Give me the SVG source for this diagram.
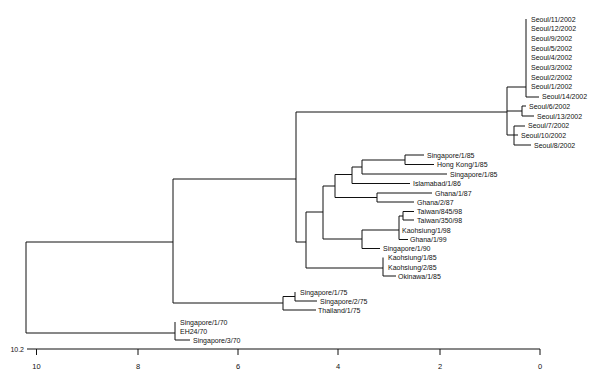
<svg xmlns="http://www.w3.org/2000/svg" width="600" height="384" viewBox="0 0 600 384">
<style>
.t{font-family:"Liberation Sans",Arial,sans-serif;font-size:7px;fill:#111}
.a{font-family:"Liberation Sans",Arial,sans-serif;font-size:7.5px;fill:#111;text-anchor:middle}
.c path{fill:none;stroke:#111;stroke-width:1}
</style>
<rect width="600" height="384" fill="#fff"/>
<g id="connectors" class="c">
<path d="M26,242V333M26,242H173M26,333H175"/>
<path d="M173,179V303M173,179H296M173,303H283"/>
<path d="M296,112V242M296,112H507M296,242H306"/>
<path d="M507,87V135M507,87H526M526,19V97M526,97H539M507,111H522M522,106V116M522,106H526M522,116H534M507,135H514M514,126V145M514,126H525M514,135H518M514,145H531"/>
<path d="M306,212V268M306,212H323M306,268H383"/>
<path d="M323,186V239M323,186H335M323,239H362"/>
<path d="M335,174.5V197.5M335,174.5H352M335,197.5H377"/>
<path d="M352,167V183.5M352,167H362M352,183.5H410"/>
<path d="M362,160V174M362,160H405M362,174H447"/>
<path d="M405,155V164.5M405,155H424M405,164.5H434"/>
<path d="M377,193V202M377,193H432M377,202H414"/>
<path d="M362,230V248.5M362,230H399M362,248.5H380"/>
<path d="M399,216V239.5M399,216H403M399,239.5H408"/>
<path d="M403,211.5V220M403,211.5H414M403,220H414"/>
<path d="M383,257.5V276M383,276H396"/>
<path d="M283,296.5V310M283,296.5H295M295,292V301M295,301H317M283,310H316"/>
<path d="M175,322V340M175,340H190"/>
</g>
<g id="seoul11"><text class="t" x="531" y="21.5">Seoul/11/2002</text></g>
<g id="seoul12"><text class="t" x="531" y="31.2">Seoul/12/2002</text></g>
<g id="seoul9"><text class="t" x="531" y="40.9">Seoul/9/2002</text></g>
<g id="seoul5"><text class="t" x="531" y="50.6">Seoul/5/2002</text></g>
<g id="seoul4"><text class="t" x="531" y="60.3">Seoul/4/2002</text></g>
<g id="seoul3"><text class="t" x="531" y="70">Seoul/3/2002</text></g>
<g id="seoul2"><text class="t" x="531" y="79.7">Seoul/2/2002</text></g>
<g id="seoul1"><text class="t" x="531" y="89.4">Seoul/1/2002</text></g>
<g id="seoul14"><text class="t" x="542" y="99.1">Seoul/14/2002</text></g>
<g id="seoul6"><text class="t" x="529" y="108.8">Seoul/6/2002</text></g>
<g id="seoul13"><text class="t" x="537" y="118.5">Seoul/13/2002</text></g>
<g id="seoul7"><text class="t" x="528" y="128.2">Seoul/7/2002</text></g>
<g id="seoul10"><text class="t" x="521" y="137.9">Seoul/10/2002</text></g>
<g id="seoul8"><text class="t" x="534" y="147.6">Seoul/8/2002</text></g>
<g id="sing185a"><text class="t" x="427" y="157.5">Singapore/1/85</text></g>
<g id="hk185"><text class="t" x="437" y="167">Hong Kong/1/85</text></g>
<g id="sing185b"><text class="t" x="450" y="176.5">Singapore/1/85</text></g>
<g id="isl186"><text class="t" x="413" y="186">Islamabad/1/86</text></g>
<g id="gha187"><text class="t" x="435" y="195.5">Ghana/1/87</text></g>
<g id="gha287"><text class="t" x="417" y="204.5">Ghana/2/87</text></g>
<g id="tw845"><text class="t" x="417" y="214">Taiwan/845/98</text></g>
<g id="tw350"><text class="t" x="417" y="222.5">Taiwan/350/98</text></g>
<g id="kao198"><text class="t" x="402" y="232.5">Kaohsiung/1/98</text></g>
<g id="gha199"><text class="t" x="410" y="242">Ghana/1/99</text></g>
<g id="sing190"><text class="t" x="383" y="251">Singapore/1/90</text></g>
<g id="kao185"><text class="t" x="388" y="260">Kaohsiung/1/85</text></g>
<g id="kao285"><text class="t" x="388" y="269.5">Kaohsiung/2/85</text></g>
<g id="oki185"><text class="t" x="398" y="278.5">Okinawa/1/85</text></g>
<g id="sing175"><text class="t" x="300" y="294.5">Singapore/1/75</text></g>
<g id="sing275"><text class="t" x="320" y="303.5">Singapore/2/75</text></g>
<g id="tha175"><text class="t" x="318" y="312.5">Thailand/1/75</text></g>
<g id="sing170"><text class="t" x="180" y="324.5">Singapore/1/70</text></g>
<g id="eh2470"><text class="t" x="180" y="333.5">EH24/70</text></g>
<g id="sing370"><text class="t" x="193" y="342.5">Singapore/3/70</text></g>
<g id="axis">
<path d="M27,349H540M36.5,349V355M138,349V355M238,349V355M338,349V355M440,349V355M540,349V355" fill="none" stroke="#111" stroke-width="1"/>
<text class="a" x="36.5" y="369">10</text>
<text class="a" x="138" y="369">8</text>
<text class="a" x="238" y="369">6</text>
<text class="a" x="338" y="369">4</text>
<text class="a" x="440" y="369">2</text>
<text class="a" x="540" y="369">0</text>
<text class="t" x="24" y="351.5" text-anchor="end">10.2</text>
</g>
</svg>
